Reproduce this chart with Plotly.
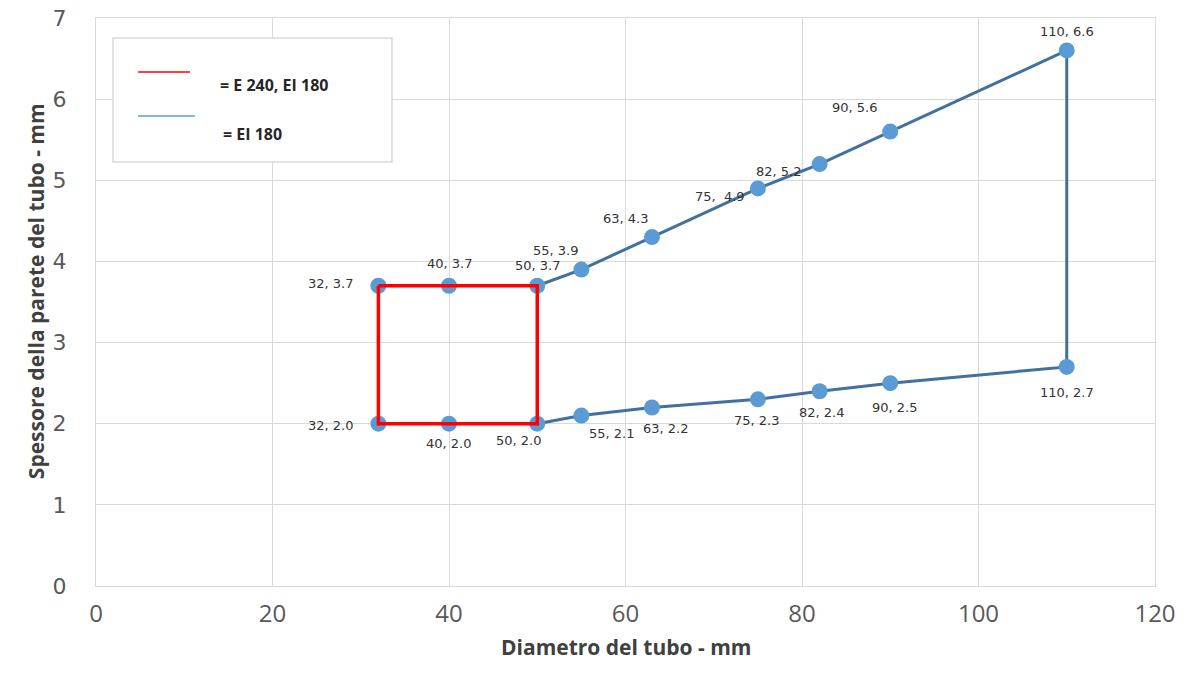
import plotly.graph_objects as go

# ---- data ----
red_x = [32, 40, 50, 50, 40, 32, 32]
red_y = [3.7, 3.7, 3.7, 2.0, 2.0, 2.0, 3.7]

blue_x = [50, 55, 63, 75, 82, 90, 110, 110, 90, 82, 75, 63, 55, 50]
blue_y = [3.7, 3.9, 4.3, 4.9, 5.2, 5.6, 6.6, 2.7, 2.5, 2.4, 2.3, 2.2, 2.1, 2.0]

pts_x = [32, 40, 50, 55, 63, 75, 82, 90, 110, 110, 90, 82, 75, 63, 55, 50, 40, 32]
pts_y = [3.7, 3.7, 3.7, 3.9, 4.3, 4.9, 5.2, 5.6, 6.6, 2.7, 2.5, 2.4, 2.3, 2.2, 2.1, 2.0, 2.0, 2.0]
pt_labels = ["32, 3.7", "40, 3.7", "50, 3.7", "55, 3.9", "63, 4.3", "75,  4.9", "82, 5.2",
             "90, 5.6", "110, 6.6", "110, 2.7", "90, 2.5", "82, 2.4", "75, 2.3", "63, 2.2",
             "55, 2.1", "50, 2.0", "40, 2.0", "32, 2.0"]
# label offsets in pixels (dx, dy with dy positive = down)
label_off = [(-48, -2), (0, -22), (0, -20), (-26, -19), (-26, -19), (-38, 8), (-41, 7),
             (-36, -24), (0, -19), (0, 26), (4, 24), (2, 21), (-1, 21), (14, 21),
             (30, 18), (-19, 17), (-1, 20), (-48, 2)]

x_ticks = [0, 20, 40, 60, 80, 100, 120]
y_ticks = [0, 1, 2, 3, 4, 5, 6, 7]

legend_names = ["= E 240, EI 180", "= EI 180"]
x_title = "Diametro del tubo - mm"
y_title = "Spessore della parete del tubo - mm"

RED = "#FF0000"
BLUE_LINE = "#41719C"
BLUE_MARK = "#5B9BD5"

fig = go.Figure()
fig.add_trace(go.Scatter(x=blue_x, y=blue_y, mode="lines",
                         line=dict(color=BLUE_LINE, width=3), showlegend=False, hoverinfo="skip"))
fig.add_trace(go.Scatter(x=pts_x, y=pts_y, mode="markers",
                         marker=dict(color=BLUE_MARK, size=16), showlegend=False))
fig.add_trace(go.Scatter(x=red_x, y=red_y, mode="lines",
                         line=dict(color=RED, width=3.5), showlegend=False, hoverinfo="skip"))

annotations = []
for x, y, t, (dx, dy) in zip(pts_x, pts_y, pt_labels, label_off):
    annotations.append(dict(x=x, y=y, xref="x", yref="y", text=t, showarrow=False,
                            xshift=dx, yshift=-dy,
                            font=dict(family="DejaVu Sans", size=13, color="#333333")))

# legend box drawn manually (paper coords)
annotations.append(dict(x=0.115, y=0.905, xref="paper", yref="paper", text="<b>%s</b>" % legend_names[0],
                        showarrow=False, xanchor="left",
                        font=dict(family="Open Sans", size=16, color="#262626")))
annotations.append(dict(x=0.118, y=0.819, xref="paper", yref="paper", text="<b>%s</b>" % legend_names[1],
                        showarrow=False, xanchor="left",
                        font=dict(family="Open Sans", size=16, color="#262626")))
# axis titles
annotations.append(dict(x=0.5, y=-0.1356, xref="paper", yref="paper", text="<b>%s</b>" % x_title,
                        showarrow=False, font=dict(family="Open Sans", size=21, color="#404040")))
annotations.append(dict(x=-0.0718, y=0.519, xref="paper", yref="paper", text="<b>%s</b>" % y_title,
                        showarrow=False, textangle=-90,
                        font=dict(family="Open Sans", size=21, color="#404040")))

shapes = [
    dict(type="rect", xref="paper", yref="paper", x0=0.016, x1=0.2795, y0=0.7465, y1=0.9648,
         line=dict(color="#D9D9D9", width=1.5), fillcolor="white", layer="above"),
    dict(type="line", xref="paper", yref="paper", x0=0.0397, x1=0.0888, y0=0.905, y1=0.905,
         line=dict(color=RED, width=1.5), layer="above"),
    dict(type="line", xref="paper", yref="paper", x0=0.0397, x1=0.0935, y0=0.8275, y1=0.8275,
         line=dict(color="#5B9BD5", width=1.5), layer="above"),
]

fig.update_layout(
    width=1192, height=682,
    margin=dict(l=96, r=37, t=18, b=96),
    plot_bgcolor="white", paper_bgcolor="white",
    annotations=annotations, shapes=shapes,
    showlegend=False,
)
fig.update_xaxes(range=[0, 120], tickvals=x_ticks, showgrid=True, gridcolor="#D9D9D9", gridwidth=1,
                 zeroline=False, showline=True, linecolor="#D9D9D9", linewidth=1, mirror=True,
                 ticks="", ticklabelstandoff=6, automargin=False, ticklabeloverflow="allow",
                 tickfont=dict(family="Liberation Sans Narrow, Open Sans", size=24, color="#595959"))
fig.update_yaxes(range=[0, 7], tickvals=y_ticks, showgrid=True, gridcolor="#D9D9D9", gridwidth=1,
                 zeroline=False, showline=True, linecolor="#D9D9D9", linewidth=1, mirror=True,
                 ticks="", ticklabelstandoff=24, automargin=False, ticklabeloverflow="allow",
                 tickfont=dict(family="DejaVu Sans", size=22, color="#595959"))

fig.write_html("out.html", config={"displayModeBar": False},
               post_script="document.body.style.margin='0';document.body.style.overflow='hidden';")
